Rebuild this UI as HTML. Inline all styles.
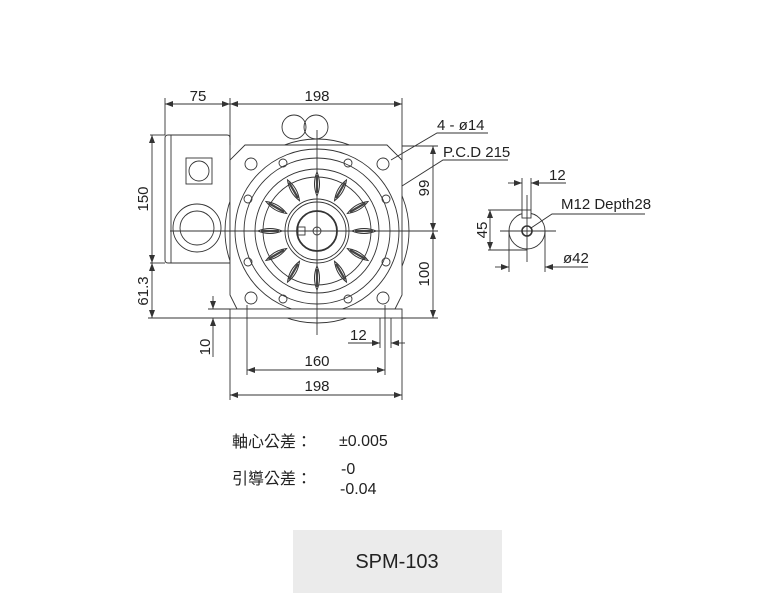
<!DOCTYPE html>
<html><head><meta charset="utf-8"><style>
html,body{margin:0;padding:0;background:#fff;}
svg{display:block}
text{font-family:"Liberation Sans","Noto Sans CJK TC",sans-serif;fill:#222}
</style></head><body>
<svg width="768" height="611" viewBox="0 0 768 611" xmlns="http://www.w3.org/2000/svg">
<defs>
<marker id="a" markerWidth="8" markerHeight="6" refX="8" refY="3" orient="auto-start-reverse" markerUnits="userSpaceOnUse"><path d="M0,0 L8,3 L0,6 z" fill="#333"/></marker>
<g id="rib"><path d="M0,-35 Q5,-47 0,-59 Q-5,-47 0,-35 z" fill="#fff" stroke="#333" stroke-width="1"/><line x1="0" y1="-38" x2="0" y2="-56" stroke="#444" stroke-width="2.2"/></g>
</defs>
<g fill="none" stroke="#333" stroke-width="0.9">
<line x1="165" y1="98" x2="165" y2="135"/>
<line x1="230" y1="98" x2="230" y2="145"/>
<line x1="402" y1="98" x2="402" y2="160"/>
<line x1="165" y1="104" x2="230" y2="104" marker-start="url(#a)" marker-end="url(#a)"/>
<line x1="230" y1="104" x2="402" y2="104" marker-start="url(#a)" marker-end="url(#a)"/>
<path d="M168,135 H227 Q230,135 230,138 V263 H168 Q165,263 165,260 V138 Q165,135 168,135 z"/>
<line x1="171" y1="135" x2="171" y2="263"/>
<rect x="186" y="158" width="26" height="26"/>
<circle cx="199" cy="171" r="10"/>
<circle cx="197" cy="228" r="24"/>
<circle cx="197" cy="228" r="17"/>
<circle cx="294" cy="127" r="12"/>
<circle cx="316" cy="127" r="12"/>
<circle cx="317" cy="231" r="92"/>
<path d="M245,145 H387 L402,160 V295 L395,309 H237 L230,295 V160 z" fill="#fff"/>
<circle cx="317" cy="231" r="82"/>
<circle cx="317" cy="231" r="73"/>
<circle cx="317" cy="231" r="62"/>
<circle cx="317" cy="231" r="54"/>
<circle cx="317" cy="231" r="32"/>
<circle cx="317" cy="231" r="29"/>
<circle cx="317" cy="231" r="20" stroke-width="1.8"/>
<circle cx="317" cy="231" r="4"/>
<rect x="298" y="227" width="7" height="8"/>
<circle cx="251" cy="164" r="6"/><circle cx="383" cy="164" r="6"/>
<circle cx="251" cy="298" r="6"/><circle cx="383" cy="298" r="6"/>
<circle cx="283" cy="163" r="4"/><circle cx="348" cy="163" r="4"/>
<circle cx="248" cy="199" r="4"/><circle cx="386" cy="199" r="4"/>
<circle cx="248" cy="262" r="4"/><circle cx="386" cy="262" r="4"/>
<circle cx="283" cy="299" r="4"/><circle cx="348" cy="299" r="4"/>
<rect x="230" y="309" width="172" height="9" fill="#fff"/>
<line x1="247" y1="305" x2="247" y2="318"/><line x1="385" y1="305" x2="385" y2="318"/>
<line x1="170" y1="231" x2="415" y2="231"/>
<line x1="317" y1="130" x2="317" y2="335"/>
<line x1="150" y1="135" x2="165" y2="135"/>
<line x1="150" y1="263" x2="165" y2="263"/>
<line x1="148" y1="318" x2="230" y2="318"/>
<line x1="152" y1="135" x2="152" y2="263" marker-start="url(#a)" marker-end="url(#a)"/>
<line x1="152" y1="263" x2="152" y2="318" marker-start="url(#a)" marker-end="url(#a)"/>
<line x1="213" y1="296" x2="213" y2="309" marker-end="url(#a)"/>
<line x1="213" y1="318" x2="213" y2="357" marker-start="url(#a)"/>
<line x1="208" y1="309" x2="230" y2="309"/>
<line x1="402" y1="146" x2="438" y2="146"/>
<line x1="410" y1="231" x2="438" y2="231"/>
<line x1="402" y1="318" x2="438" y2="318"/>
<line x1="433" y1="146" x2="433" y2="231" marker-start="url(#a)" marker-end="url(#a)"/>
<line x1="433" y1="231" x2="433" y2="318" marker-start="url(#a)" marker-end="url(#a)"/>
<polyline points="391,160 437,133 488,133"/>
<polyline points="402,186 443,160 508,160"/>
<line x1="230" y1="318" x2="230" y2="400"/>
<line x1="402" y1="318" x2="402" y2="400"/>
<line x1="247" y1="318" x2="247" y2="375"/>
<line x1="385" y1="318" x2="385" y2="375"/>
<line x1="380" y1="318" x2="380" y2="348"/>
<line x1="391" y1="318" x2="391" y2="348"/>
<line x1="348" y1="343" x2="380" y2="343" marker-end="url(#a)"/>
<line x1="391" y1="343" x2="405" y2="343" marker-start="url(#a)"/>
<line x1="247" y1="370" x2="385" y2="370" marker-start="url(#a)" marker-end="url(#a)"/>
<line x1="230" y1="395" x2="402" y2="395" marker-start="url(#a)" marker-end="url(#a)"/>
<circle cx="527" cy="231" r="18"/>
<circle cx="527" cy="231" r="5" stroke-width="1.6"/>
<rect x="522" y="210" width="9" height="8" fill="#fff"/>
<line x1="500" y1="231" x2="556" y2="231"/>
<line x1="527" y1="195" x2="527" y2="262"/>
<line x1="522" y1="178" x2="522" y2="210"/><line x1="531" y1="178" x2="531" y2="210"/>
<line x1="508" y1="183" x2="522" y2="183" marker-end="url(#a)"/>
<line x1="531" y1="183" x2="566" y2="183" marker-start="url(#a)"/>
<line x1="488" y1="210" x2="522" y2="210"/><line x1="488" y1="250" x2="527" y2="250"/>
<line x1="490" y1="210" x2="490" y2="250" marker-start="url(#a)" marker-end="url(#a)"/>
<line x1="509" y1="231" x2="509" y2="272"/><line x1="545" y1="231" x2="545" y2="272"/>
<line x1="495" y1="267" x2="509" y2="267" marker-end="url(#a)"/>
<line x1="545" y1="267" x2="588" y2="267" marker-start="url(#a)"/>
<polyline points="531,228 552,214 645,214"/>
</g>
<g transform="translate(317 231)">
<use href="#rib" transform="rotate(0)"/><use href="#rib" transform="rotate(30)"/><use href="#rib" transform="rotate(60)"/>
<use href="#rib" transform="rotate(90)"/><use href="#rib" transform="rotate(120)"/><use href="#rib" transform="rotate(150)"/>
<use href="#rib" transform="rotate(180)"/><use href="#rib" transform="rotate(210)"/><use href="#rib" transform="rotate(240)"/>
<use href="#rib" transform="rotate(270)"/><use href="#rib" transform="rotate(300)"/><use href="#rib" transform="rotate(330)"/>
</g>
<g font-size="15">
<text x="198" y="101" text-anchor="middle">75</text>
<text x="317" y="101" text-anchor="middle">198</text>
<text x="437" y="130">4 - ø14</text>
<text x="443" y="157">P.C.D 215</text>
<text x="549" y="180">12</text>
<text x="561" y="209">M12 Depth28</text>
<text x="563" y="263">ø42</text>
<text x="350" y="340">12</text>
<text x="317" y="366" text-anchor="middle">160</text>
<text x="317" y="391" text-anchor="middle">198</text>
<text transform="translate(148 199) rotate(-90)" text-anchor="middle">150</text>
<text transform="translate(148 291) rotate(-90)" text-anchor="middle">61.3</text>
<text transform="translate(210 347) rotate(-90)" text-anchor="middle">10</text>
<text transform="translate(429 188) rotate(-90)" text-anchor="middle">99</text>
<text transform="translate(429 274) rotate(-90)" text-anchor="middle">100</text>
<text transform="translate(487 230) rotate(-90)" text-anchor="middle">45</text>
<text x="232" y="447" font-size="16">軸心公差：</text>
<text x="339" y="446" font-size="16">±0.005</text>
<text x="232" y="484" font-size="16">引導公差：</text>
<text x="341" y="474" font-size="16">-0</text>
<text x="340" y="494" font-size="16">-0.04</text>
</g>
<rect x="293" y="530" width="209" height="63" fill="#ebebeb"/>
<text x="397" y="568" font-size="20" text-anchor="middle">SPM-103</text>
</svg>
</body></html>
